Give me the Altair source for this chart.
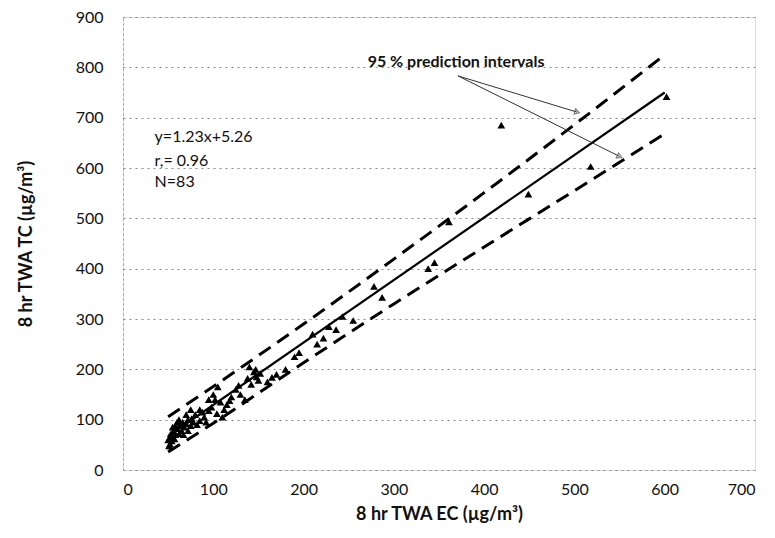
import altair as alt
import pandas as pd

# Measured points (8 hr TWA EC vs 8 hr TWA TC, ug/m3)
ec = [602, 419, 518, 449, 361, 345, 338, 278, 287, 243, 255, 236, 228, 222, 210,
      215, 195, 190, 170, 165, 140, 145, 148, 150, 138, 142, 152, 147, 125, 120,
      118, 105, 100, 102, 98, 95, 104, 90, 88, 85, 80, 78, 76, 75, 72,
      70, 68, 66, 65, 63, 62, 60, 60, 58, 58, 57, 56, 55, 55, 54,
      53, 52, 52, 51, 50, 62, 67, 72, 82, 85, 92, 112, 115, 110, 130,
      135, 128, 108, 95, 75, 70, 180, 160]
tc = [742, 685, 603, 548, 493, 412, 400, 365, 343, 305, 297, 279, 285, 262, 270,
      250, 233, 225, 190, 184, 205, 195, 185, 178, 182, 170, 192, 200, 160, 145,
      138, 165, 150, 140, 125, 118, 112, 105, 115, 98, 110, 95, 102, 88, 100,
      92, 85, 95, 78, 88, 72, 82, 95, 70, 88, 62, 78, 68, 85, 58,
      72, 52, 65, 48, 60, 100, 70, 78, 90, 120, 95, 120, 130, 105, 150,
      140, 168, 135, 140, 120, 110, 200, 175]

# Regression line and 95 % prediction interval lines
fit_x = [50, 600]
fit_y = [67, 750]
band_x = [50, 100, 200, 300, 400, 500, 600]
upper_y = [106, 166, 290, 419, 551, 686, 825]
lower_y = [36, 93, 213, 330, 443, 555, 668]

# Annotation arrows (start -> ends)
arrow_x0 = [371, 371]
arrow_y0 = [783, 783]
arrow_x1 = [503, 550]
arrow_y1 = [711, 623]
arrow_angle = [17, 26]

eq_lines = ["y=1.23x+5.26", "r,= 0.96", "N=83"]
eq_y = [661, 614, 572]

FONT = "Lato"

pts = pd.DataFrame({"x": ec, "y": tc})
fit = pd.DataFrame({"x": fit_x, "y": fit_y})
upper = pd.DataFrame({"x": band_x, "y": upper_y})
lower = pd.DataFrame({"x": band_x, "y": lower_y})
arrows = pd.DataFrame({"x": arrow_x0, "y": arrow_y0, "x2": arrow_x1, "y2": arrow_y1,
                       "angle": arrow_angle})
eq = pd.DataFrame({"x": [35] * 3, "y": eq_y, "t": eq_lines})
pi_lab = pd.DataFrame({"x": [271], "y": [811], "t": ["95 % prediction intervals"]})

xs = alt.Scale(domain=[0, 700], nice=False)
ys = alt.Scale(domain=[0, 900], nice=False)

xax = alt.Axis(values=list(range(0, 701, 100)), title="8 hr TWA EC (µg/m³)",
               ticks=False, domain=False, grid=False, labelPadding=11,
               titlePadding=8, labelFontSize=16, titleFontSize=18,
               labelFont=FONT, titleFont=FONT, labelColor="#111", titleColor="#111")
yax = alt.Axis(values=list(range(0, 901, 100)), title="8 hr TWA TC (µg/m³)",
               ticks=False, domain=True, domainColor="#999", domainDash=[2, 3],
               grid=True, gridColor="#888", gridDash=[2, 4], gridWidth=1,
               labelPadding=20, titlePadding=40, labelFontSize=16, titleFontSize=18,
               labelFont=FONT, titleFont=FONT, labelColor="#111", titleColor="#111")

base_x = alt.X("x:Q", scale=xs, axis=xax)
base_y = alt.Y("y:Q", scale=ys, axis=yax)

points = alt.Chart(pts).mark_point(shape="triangle-up", filled=True, color="black",
                                   size=60, opacity=1).encode(x=base_x, y=base_y)
fit_line = alt.Chart(fit).mark_line(color="black", strokeWidth=2.2).encode(
    x=alt.X("x:Q", scale=xs), y=alt.Y("y:Q", scale=ys))
up_line = alt.Chart(upper).mark_line(color="black", strokeWidth=3,
                                     strokeDash=[14, 8], interpolate="monotone").encode(
    x=alt.X("x:Q", scale=xs), y=alt.Y("y:Q", scale=ys))
lo_line = alt.Chart(lower).mark_line(color="black", strokeWidth=3,
                                     strokeDash=[14, 8], interpolate="monotone").encode(
    x=alt.X("x:Q", scale=xs), y=alt.Y("y:Q", scale=ys))
arrow_lines = alt.Chart(arrows).mark_rule(color="#333", strokeWidth=1).encode(
    x=alt.X("x:Q", scale=xs), y=alt.Y("y:Q", scale=ys), x2="x2:Q", y2="y2:Q")
arrow_heads = alt.Chart(arrows).mark_point(shape="triangle-right", filled=False,
                                           color="#333", size=30, strokeWidth=1).encode(
    x=alt.X("x2:Q", scale=xs), y=alt.Y("y2:Q", scale=ys), angle=alt.Angle("angle:Q", scale=None))
eq_text = alt.Chart(eq).mark_text(align="left", baseline="middle", font=FONT,
                                  fontSize=16, color="#111").encode(
    x=alt.X("x:Q", scale=xs), y=alt.Y("y:Q", scale=ys), text="t:N")
pi_text = alt.Chart(pi_lab).mark_text(align="left", baseline="middle", font=FONT,
                                      fontSize=16, fontWeight="bold", color="#111").encode(
    x=alt.X("x:Q", scale=xs), y=alt.Y("y:Q", scale=ys), text="t:N")

chart = alt.layer(points, up_line, lo_line, fit_line, arrow_lines, arrow_heads,
                  eq_text, pi_text).properties(
    width=632, height=453,
    autosize=alt.AutoSizeParams(type="none"),
    padding={"left": 115, "top": 9, "right": 12, "bottom": 60},
).configure_view(stroke=None).configure(background="white")

chart.save("out.html", embed_options={"renderer": "svg", "actions": False})
